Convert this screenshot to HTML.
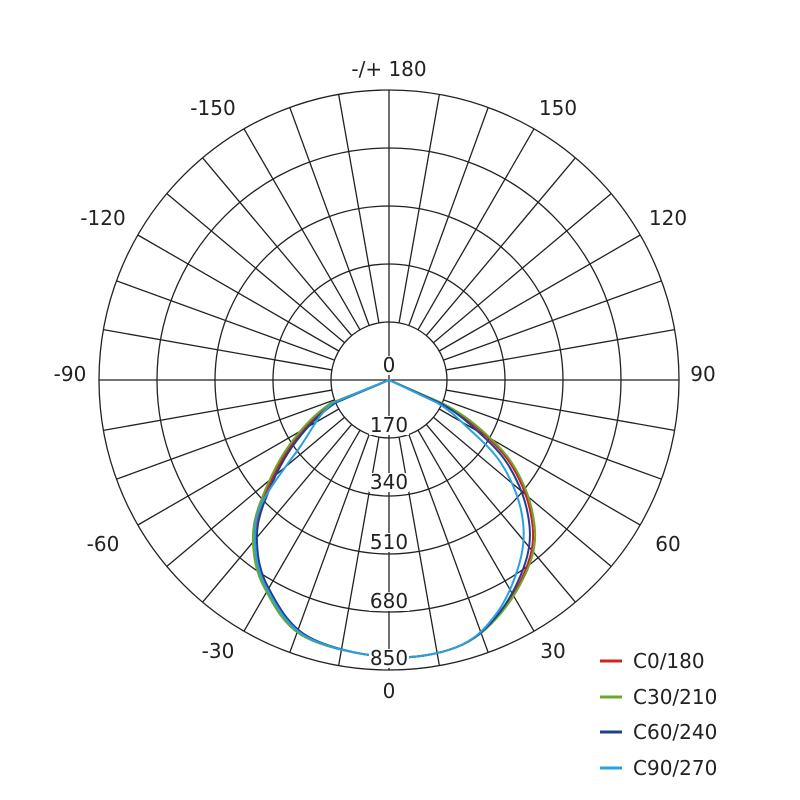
<!DOCTYPE html><html><head><style>body{margin:0;background:#fff}svg{display:block}text{font-family:"DejaVu Sans","Liberation Sans",sans-serif;font-size:20px;fill:#222}</style></head><body>
<svg id="svg" width="800" height="800" viewBox="0 0 800 800" xmlns="http://www.w3.org/2000/svg">
<g id="grid" stroke="#222" stroke-width="1.3" fill="none"></g>
<g id="curves" fill="none" stroke-width="2" stroke-linejoin="round"></g>
<g id="labels"></g>
<g text-anchor="middle">
<text x="389" y="76">-/+ 180</text>
<text x="558" y="115">150</text><text x="213" y="115">-150</text>
<text x="668" y="225">120</text><text x="103" y="225">-120</text>
<text x="703" y="381">90</text><text x="70" y="381">-90</text>
<text x="668" y="551">60</text><text x="103" y="551">-60</text>
<text x="553" y="658">30</text><text x="218" y="658">-30</text>
<text x="389" y="698">0</text>
</g>
<g stroke-width="3">
<line x1="600" y1="661" x2="622" y2="661" stroke="#d42020"/>
<line x1="600" y1="697" x2="622" y2="697" stroke="#6aaa2a"/>
<line x1="600" y1="732" x2="622" y2="732" stroke="#1f3f8f"/>
<line x1="600" y1="768" x2="622" y2="768" stroke="#2aa0e0"/>
</g>
<text x="633" y="668">C0/180</text><text x="633" y="704">C30/210</text><text x="633" y="739">C60/240</text><text x="633" y="775">C90/270</text>
</svg>
<script>
const cx=389,cy=380,R=290,ns="http://www.w3.org/2000/svg";
const g=document.getElementById('grid');
function el(t,a,p){const e=document.createElementNS(ns,t);for(const k in a)e.setAttribute(k,a[k]);p.appendChild(e);return e;}
for(let i=1;i<=5;i++)el('circle',{cx:cx,cy:cy,r:R*i/5},g);
for(let a=0;a<360;a+=10){const t=a*Math.PI/180;const s=(a%90==0)?0:58;
el('line',{x1:cx+s*Math.sin(t),y1:cy-s*Math.cos(t),x2:cx+R*Math.sin(t),y2:cy-R*Math.cos(t)},g);}
const base=[[389,380],[333,403],[290,447],[262,503],[255,543],[266,587],[305,636],[387,657],[457,647],[500,612],[527,557],[527,510],[507,463],[473,427],[440,403],[389,380]];
function mk(p){let d='M'+p[0].join(',');for(let i=0;i<p.length-1;i++){const p0=p[Math.max(i-1,0)],p1=p[i],p2=p[i+1],p3=p[Math.min(i+2,p.length-1)];
const s=(i==0||i==p.length-2)?0:1/6;d+=' C'+(p1[0]+(p2[0]-p0[0])*s)+','+(p1[1]+(p2[1]-p0[1])*s)+' '+(p2[0]-(p3[0]-p1[0])*s)+','+(p2[1]-(p3[1]-p1[1])*s)+' '+p2[0]+','+p2[1];}return d;}
const cols=[['#d42020',0,3],['#6aaa2a',-2,5],['#1f3f8f',2,0],['#2aa0e0',0,-6]];
const cv=document.getElementById('curves');
cols.forEach(function(cc,k){const col=cc[0],l=cc[1],r=cc[2];const pts=base.map(function(q,i){let dx=0;if(i>0&&i<7)dx=l;if(i>8&&i<15)dx=r*(i>9&&i<14?1:0.4);if(k==3&&i==2)dx=10;return [q[0]+dx,q[1]];});
el('path',{d:mk(pts),stroke:col},cv);});
const lb=document.getElementById('labels');
[['0',372],['170',432],['340',489],['510',549],['680',608],['850',665]].forEach(function(o){const t=o[0],y=o[1];
const w=t.length*12+4;el('rect',{x:389-w/2,y:y-16,width:w,height:19,fill:'#fff'},lb);
const e=el('text',{x:389,y:y,'text-anchor':'middle'},lb);e.textContent=t;});
</script>
</body></html>
